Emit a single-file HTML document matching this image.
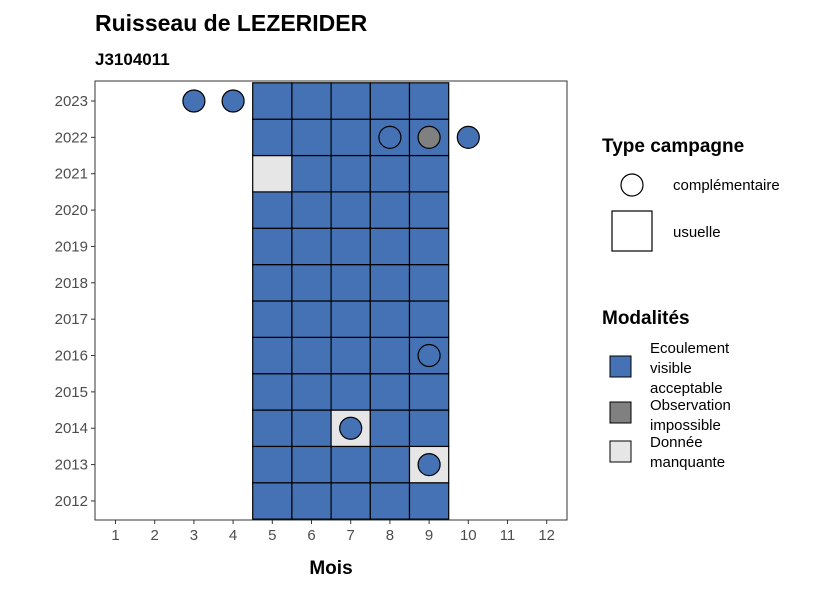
<!DOCTYPE html>
<html><head><meta charset="utf-8"><style>
body{margin:0;background:#fff;}
svg{font-family:"Liberation Sans",sans-serif;}
</style></head><body>
<svg id="c" width="826" height="590" viewBox="0 0 826 590">
<text x="95" y="31" font-size="23" font-weight="bold" fill="#000">Ruisseau de LEZERIDER</text>
<text x="95" y="65" font-size="17" font-weight="bold" fill="#000">J3104011</text>
<g id="plot"></g>
<text x="331" y="574" font-size="19" font-weight="bold" text-anchor="middle">Mois</text>
<g>
<text x="602" y="152" font-size="19" font-weight="bold">Type campagne</text>
<circle cx="632" cy="185" r="11" fill="#fff" stroke="#000" stroke-width="1.2"/>
<text x="673" y="190" font-size="15">complémentaire</text>
<rect x="612" y="211" width="40" height="40" fill="#fff" stroke="#000" stroke-width="1.2"/>
<text x="673" y="237" font-size="15">usuelle</text>
</g>
<g>
<text x="602" y="324" font-size="19" font-weight="bold">Modalités</text>
<rect x="610" y="356" width="21" height="21" fill="#4472b4" stroke="#000"/>
<text font-size="15"><tspan x="650" y="353">Ecoulement</tspan><tspan x="650" y="373">visible</tspan><tspan x="650" y="393">acceptable</tspan></text>
<rect x="610" y="402" width="21" height="21" fill="#808080" stroke="#000"/>
<text font-size="15"><tspan x="650" y="410">Observation</tspan><tspan x="650" y="430">impossible</tspan></text>
<rect x="610" y="441" width="21" height="21" fill="#e6e6e6" stroke="#000"/>
<text font-size="15"><tspan x="650" y="447">Donnée</tspan><tspan x="650" y="467">manquante</tspan></text>
</g>
</svg>
<script>
const months=[1,2,3,4,5,6,7,8,9,10,11,12];
const years=[2012,2013,2014,2015,2016,2017,2018,2019,2020,2021,2022,2023];
const tileMonths=[5,6,7,8,9];
const tileYears=[2012,2013,2014,2015,2016,2017,2018,2019,2020,2021,2022,2023];
const missingTiles=[[5,2021],[7,2014],[9,2013]];
const circleMonths=[3,4,8,9,10,9,7,9];
const circleYears=[2023,2023,2022,2022,2022,2016,2014,2013];
const circleMods=["E","E","E","O","E","E","E","E"];
const colors={E:"#4472b4",O:"#808080",M:"#e6e6e6"};
const NS="http://www.w3.org/2000/svg";
const g=document.getElementById('plot');
const x=m=>115.5+(m-1)*39.2;
const y=yr=>101+(2023-yr)*36.36;
function mk(t,a){const e=document.createElementNS(NS,t);for(const k in a)e.setAttribute(k,a[k]);g.appendChild(e);return e;}
const panel=mk('rect',{x:95,y:81,width:472,height:439,fill:'#fff',stroke:'#333','stroke-width':1});


tileMonths.forEach(m=>tileYears.forEach(yr=>{
  const miss=missingTiles.some(p=>p[0]===m&&p[1]===yr);
  const r=mk('rect',{x:x(m)-19.6,y:y(yr)-18.18,width:39.2,height:36.36,fill:miss?colors.M:colors.E,stroke:'#000','stroke-width':1.2});
  
  
}));
circleMonths.forEach((m,i)=>{
  const c=mk('circle',{cx:x(m),cy:y(circleYears[i]),r:11,fill:colors[circleMods[i]],stroke:'#000','stroke-width':1.2});
  
  
});
months.forEach(m=>{
  mk('line',{x1:x(m),x2:x(m),y1:520,y2:524,stroke:'#333'});
  const t=mk('text',{x:x(m),y:540,'font-size':15,'text-anchor':'middle',fill:'#4d4d4d'});
  t.textContent=m;
  
  
});
years.forEach(yr=>{
  mk('line',{x1:91,x2:95,y1:y(yr),y2:y(yr),stroke:'#333'});
  const t=mk('text',{x:88,y:y(yr)+5,'font-size':15,'text-anchor':'end',fill:'#4d4d4d'});
  t.textContent=yr;
  
  
});
</script>
</body></html>
